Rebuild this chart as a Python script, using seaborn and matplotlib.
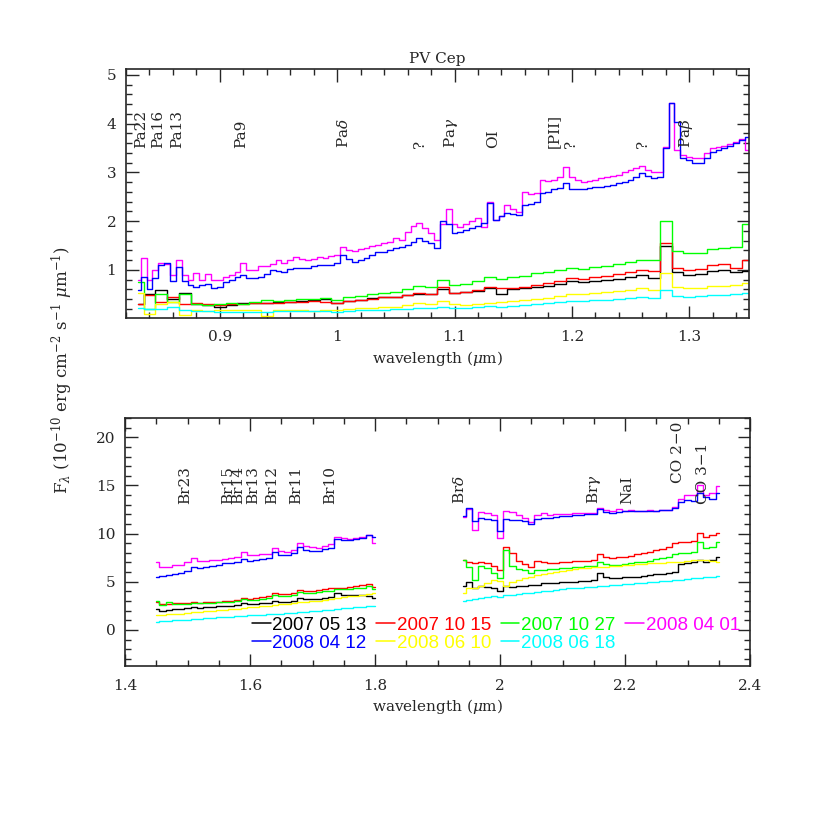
import numpy as np
import pandas as pd
import matplotlib
matplotlib.use("Agg")
import matplotlib.pyplot as plt
import seaborn as sns
from matplotlib.lines import Line2D
from matplotlib.ticker import MultipleLocator, FormatStrFormatter

# -----------------------------
# Data
# -----------------------------
dates = ["2007 05 13", "2007 10 15", "2007 10 27", "2008 04 01",
         "2008 04 12", "2008 06 10", "2008 06 18"]
colors = ["#000000", "#ff0000", "#00ff00", "#ff00ff",
          "#0000ff", "#ffff00", "#00ffff"]

# top panel: 0.83 - 1.35 um
wl_top = [0.83, 0.84, 0.85, 0.86, 0.87, 0.88, 0.89, 0.90, 0.91, 0.92,
          0.93, 0.94, 0.95, 0.96, 0.97, 0.98, 0.99, 1.00, 1.01, 1.02,
          1.03, 1.04, 1.05, 1.06, 1.07, 1.08, 1.09, 1.10, 1.11, 1.12,
          1.13, 1.14, 1.15, 1.16, 1.17, 1.18, 1.19, 1.20, 1.21, 1.22,
          1.23, 1.24, 1.25, 1.26, 1.27, 1.28, 1.29, 1.30, 1.31, 1.32,
          1.33, 1.34, 1.35]
# the two bright spectra are read on a finer grid
wl_top_fine = [0.830, 0.835, 0.840, 0.845, 0.850, 0.855, 0.860, 0.865, 0.870, 0.875,
               0.880, 0.885, 0.890, 0.895, 0.900, 0.905, 0.910, 0.915, 0.920, 0.925,
               0.930, 0.935, 0.940, 0.945, 0.950, 0.955, 0.960, 0.965, 0.970, 0.975,
               0.980, 0.985, 0.990, 0.995, 1.000, 1.005, 1.010, 1.015, 1.020, 1.025,
               1.030, 1.035, 1.040, 1.045, 1.050, 1.055, 1.060, 1.065, 1.070, 1.075,
               1.080, 1.085, 1.090, 1.095, 1.100, 1.105, 1.110, 1.115, 1.120, 1.125,
               1.130, 1.135, 1.140, 1.145, 1.150, 1.155, 1.160, 1.165, 1.170, 1.175,
               1.180, 1.185, 1.190, 1.195, 1.200, 1.205, 1.210, 1.215, 1.220, 1.225,
               1.230, 1.235, 1.240, 1.245, 1.250, 1.255, 1.260, 1.265, 1.270, 1.275,
               1.280, 1.285, 1.290, 1.295, 1.300, 1.305, 1.310, 1.315, 1.320, 1.325,
               1.330, 1.335, 1.340, 1.345, 1.350]

top_070513 = [0.3, 0.5, 0.58, 0.4, 0.52, 0.3, 0.28, 0.25, 0.28, 0.33,
              0.32, 0.33, 0.35, 0.35, 0.36, 0.38, 0.4, 0.32, 0.36, 0.38,
              0.42, 0.44, 0.45, 0.48, 0.5, 0.5, 0.6, 0.52, 0.54, 0.56,
              0.64, 0.5, 0.6, 0.62, 0.65, 0.68, 0.72, 0.77, 0.75, 0.77,
              0.8, 0.82, 0.86, 0.9, 0.84, 1.5, 0.95, 0.9, 0.92, 0.98,
              1.0, 0.95, 0.98]
top_071015 = [0.3, 0.48, 0.35, 0.45, 0.3, 0.32, 0.3, 0.28, 0.3, 0.3,
              0.32, 0.32, 0.33, 0.35, 0.35, 0.36, 0.35, 0.32, 0.36, 0.38,
              0.4, 0.44, 0.45, 0.48, 0.52, 0.5, 0.66, 0.52, 0.55, 0.58,
              0.66, 0.62, 0.64, 0.66, 0.7, 0.74, 0.78, 0.84, 0.82, 0.86,
              0.88, 0.92, 0.95, 1.0, 0.97, 1.55, 1.05, 1.0, 1.02, 1.1,
              1.12, 1.05, 1.2]
top_071027 = [0.75, 0.2, 0.5, 0.35, 0.5, 0.3, 0.28, 0.3, 0.32, 0.3,
              0.35, 0.38, 0.36, 0.38, 0.4, 0.4, 0.42, 0.38, 0.44, 0.46,
              0.5, 0.52, 0.55, 0.6, 0.68, 0.66, 0.8, 0.7, 0.72, 0.78,
              0.86, 0.82, 0.86, 0.88, 0.93, 0.96, 1.0, 1.04, 1.02, 1.06,
              1.08, 1.12, 1.16, 1.2, 1.2, 2.0, 1.38, 1.35, 1.34, 1.42,
              1.46, 1.48, 1.95]
top_080401 = [0.8, 1.25, 0.8, 1.0, 1.15, 1.12, 0.9, 1.2, 0.9, 0.8,
              0.94, 0.8, 0.92, 0.8, 0.8, 0.86, 0.9, 0.96, 1.14, 1.0,
              1.0, 1.08, 1.08, 1.12, 1.2, 1.15, 1.2, 1.27, 1.22, 1.2,
              1.22, 1.26, 1.25, 1.28, 1.3, 1.47, 1.4, 1.38, 1.42, 1.45,
              1.5, 1.52, 1.55, 1.58, 1.65, 1.62, 1.78, 1.9, 1.96, 1.85,
              1.75, 1.61, 1.95, 2.25, 1.95, 1.88, 1.95, 2.0, 2.07, 1.88,
              2.4, 2.02, 2.1, 2.33, 2.25, 2.19, 2.6, 2.55, 2.58, 2.84,
              2.82, 2.84, 2.9, 3.11, 2.9, 2.85, 2.8, 2.82, 2.85, 2.88,
              2.9, 2.92, 2.95, 3.0, 3.05, 3.1, 3.13, 3.05, 3.0, 3.0,
              3.52, 4.42, 3.46, 3.35, 3.32, 3.3, 3.3, 3.4, 3.5, 3.52,
              3.55, 3.58, 3.62, 3.68, 3.45]
top_080412 = [0.59, 0.86, 0.6, 0.84, 1.1, 1.14, 0.78, 1.06, 0.78, 0.69,
              0.66, 0.7, 0.72, 0.63, 0.65, 0.75, 0.8, 0.86, 0.9, 0.83,
              0.84, 0.86, 0.92, 1.0, 0.98, 0.96, 1.02, 1.04, 1.04, 1.05,
              1.08, 1.1, 1.1, 1.1, 1.15, 1.31, 1.22, 1.16, 1.2, 1.25,
              1.3, 1.37, 1.37, 1.4, 1.45, 1.48, 1.51, 1.58, 1.65, 1.6,
              1.55, 1.45, 2.0, 1.95, 1.76, 1.78, 1.82, 1.86, 1.9, 1.96,
              2.37, 2.02, 2.1, 2.16, 2.14, 2.12, 2.33, 2.35, 2.39, 2.58,
              2.6, 2.65, 2.68, 2.78, 2.65, 2.65, 2.66, 2.68, 2.7, 2.7,
              2.72, 2.75, 2.78, 2.8, 2.85, 2.9, 2.98, 2.92, 2.88, 2.9,
              3.5, 4.42, 4.03, 3.3, 3.25, 3.2, 3.2, 3.3, 3.42, 3.45,
              3.5, 3.55, 3.6, 3.66, 3.73]
top_080610 = [0.52, 0.1, 0.3, 0.35, 0.08, 0.18, 0.16, 0.17, 0.18, 0.17,
              0.18, 0.06, 0.18, 0.17, 0.18, 0.16, 0.18, 0.18, 0.2, 0.21,
              0.22, 0.24, 0.25, 0.28, 0.32, 0.3, 0.37, 0.3, 0.28, 0.3,
              0.33, 0.34, 0.36, 0.38, 0.4, 0.43, 0.46, 0.5, 0.5, 0.52,
              0.54, 0.56, 0.58, 0.63, 0.59, 0.94, 0.65, 0.63, 0.64, 0.67,
              0.68, 0.7, 0.73]
top_080618 = [0.22, 0.2, 0.2, 0.24, 0.18, 0.15, 0.15, 0.14, 0.13, 0.13,
              0.14, 0.14, 0.15, 0.15, 0.15, 0.16, 0.16, 0.14, 0.16, 0.17,
              0.18, 0.18, 0.19, 0.2, 0.21, 0.22, 0.25, 0.22, 0.23, 0.24,
              0.26, 0.25, 0.27, 0.28, 0.3, 0.32, 0.34, 0.36, 0.36, 0.38,
              0.39, 0.41, 0.42, 0.45, 0.42, 0.59, 0.46, 0.45, 0.46, 0.48,
              0.49, 0.5, 0.52]

# bottom panel, H band piece: 1.45 - 1.80 um
wl_h = [1.45, 1.46, 1.47, 1.48, 1.49, 1.50, 1.51, 1.52, 1.53, 1.54,
        1.55, 1.56, 1.57, 1.58, 1.59, 1.60, 1.61, 1.62, 1.63, 1.64,
        1.65, 1.66, 1.67, 1.68, 1.69, 1.70, 1.71, 1.72, 1.73, 1.74,
        1.75, 1.76, 1.77, 1.78, 1.79, 1.80]
h_070513 = [2.2, 2.0, 2.1, 2.2, 2.2, 2.3, 2.4, 2.3, 2.4, 2.4,
            2.5, 2.5, 2.5, 2.6, 2.8, 2.7, 2.7, 2.8, 2.8, 3.0,
            2.9, 2.9, 3.0, 3.3, 3.2, 3.2, 3.2, 3.3, 3.4, 3.8,
            3.6, 3.6, 3.6, 3.6, 3.5, 3.3]
h_071015 = [2.9, 2.7, 2.7, 2.8, 2.8, 2.8, 2.9, 2.8, 2.9, 2.9,
            2.9, 3.0, 3.0, 3.1, 3.3, 3.2, 3.3, 3.4, 3.5, 3.8,
            3.7, 3.7, 3.8, 4.1, 4.0, 4.0, 4.1, 4.2, 4.3, 4.4,
            4.4, 4.5, 4.6, 4.7, 4.8, 4.5]
h_071027 = [3.0, 2.6, 2.9, 2.7, 2.7, 2.7, 2.8, 2.8, 2.8, 2.8,
            2.9, 2.9, 2.9, 3.0, 3.2, 3.1, 3.1, 3.2, 3.3, 3.6,
            3.5, 3.5, 3.6, 3.9, 3.8, 3.8, 3.9, 4.0, 4.0, 4.2,
            4.2, 4.2, 4.3, 4.4, 4.6, 4.2]
h_080401 = [7.0, 6.5, 6.5, 6.7, 6.7, 7.0, 7.5, 7.2, 7.2, 7.3,
            7.3, 7.4, 7.5, 7.6, 8.1, 7.8, 7.8, 7.9, 7.9, 8.5,
            8.2, 8.1, 8.3, 9.0, 8.7, 8.6, 8.5, 8.7, 8.9, 9.6,
            9.5, 9.4, 9.5, 9.6, 9.8, 9.0]
h_080412 = [5.5, 5.6, 5.7, 5.8, 5.9, 6.1, 6.5, 6.4, 6.5, 6.6,
            6.7, 6.9, 6.9, 7.0, 7.4, 7.2, 7.3, 7.4, 7.5, 8.1,
            7.8, 7.8, 8.0, 8.6, 8.3, 8.2, 8.2, 8.4, 8.5, 9.4,
            9.3, 9.3, 9.4, 9.5, 9.9, 9.6]
h_080610 = [1.5, 1.55, 1.6, 1.65, 1.7, 1.8, 1.85, 1.9, 1.95, 2.0,
            2.05, 2.1, 2.15, 2.2, 2.3, 2.35, 2.4, 2.45, 2.5, 2.6,
            2.65, 2.7, 2.75, 2.85, 2.9, 3.0, 3.05, 3.1, 3.2, 3.3,
            3.4, 3.5, 3.55, 3.6, 3.7, 3.8]
h_080618 = [0.85, 0.9, 0.95, 1.0, 1.0, 1.05, 1.1, 1.15, 1.2, 1.25,
            1.3, 1.3, 1.35, 1.4, 1.45, 1.5, 1.55, 1.55, 1.6, 1.65,
            1.7, 1.75, 1.8, 1.85, 1.9, 1.95, 2.0, 2.05, 2.1, 2.2,
            2.25, 2.3, 2.35, 2.4, 2.5, 2.5]

# bottom panel, K band piece: 1.94 - 2.35 um
wl_k = [1.94, 1.95, 1.96, 1.97, 1.98, 1.99, 2.00, 2.01, 2.02, 2.03,
        2.04, 2.05, 2.06, 2.07, 2.08, 2.09, 2.10, 2.11, 2.12, 2.13,
        2.14, 2.15, 2.16, 2.17, 2.18, 2.19, 2.20, 2.21, 2.22, 2.23,
        2.24, 2.25, 2.26, 2.27, 2.28, 2.29, 2.30, 2.31, 2.32, 2.33,
        2.34, 2.35]
k_070513 = [4.6, 5.0, 4.3, 4.6, 4.5, 4.4, 4.0, 4.6, 4.5, 4.6,
            4.6, 4.7, 4.7, 4.9, 4.9, 4.9, 5.0, 5.0, 5.0, 5.1,
            5.1, 5.2, 5.9, 5.5, 5.4, 5.4, 5.5, 5.5, 5.5, 5.6,
            5.7, 5.8, 5.8, 5.9, 6.0, 6.8, 6.9, 7.1, 7.3, 7.1,
            7.3, 7.6]
k_071015 = [7.3, 7.1, 6.9, 7.0, 6.9, 6.6, 6.2, 8.6, 8.0, 7.2,
            6.8, 6.5, 7.2, 7.0, 6.9, 6.9, 7.0, 7.1, 7.2, 7.2,
            7.2, 7.3, 7.9, 7.6, 7.5, 7.6, 7.6, 7.7, 7.9, 8.0,
            8.1, 8.3, 8.4, 8.6, 9.0, 9.1, 9.1, 9.2, 10.1, 9.6,
            9.8, 10.1]
k_071027 = [7.3, 6.5, 5.2, 6.6, 6.4, 5.9, 5.4, 8.3, 6.6, 6.3,
            6.2, 5.9, 6.2, 6.2, 6.3, 6.3, 6.4, 6.4, 6.5, 6.5,
            6.6, 6.6, 7.0, 6.8, 6.7, 6.7, 6.8, 6.9, 7.0, 7.1,
            7.2, 7.4, 7.5, 7.6, 7.9, 8.0, 8.0, 8.1, 9.1, 8.5,
            8.6, 9.1]
k_080401 = [11.7, 12.5, 10.4, 12.2, 12.1, 11.9, 9.5, 12.3, 12.2, 11.9,
            11.6, 11.2, 11.9, 12.1, 11.9, 12.0, 12.0, 12.0, 12.1, 12.1,
            12.1, 12.1, 12.7, 12.4, 12.3, 12.5, 12.3, 12.4, 12.3, 12.3,
            12.4, 12.3, 12.4, 12.4, 12.8, 13.6, 14.0, 14.0, 15.0, 14.0,
            14.2, 14.9]
k_080412 = [11.8, 12.7, 11.3, 11.6, 11.5, 11.4, 10.3, 11.5, 11.4, 11.4,
            11.3, 11.0, 11.5, 11.6, 11.6, 11.7, 11.8, 11.8, 11.9, 11.9,
            12.0, 12.0, 12.6, 12.2, 12.1, 12.2, 12.3, 12.3, 12.3, 12.3,
            12.3, 12.3, 12.4, 12.4, 12.7, 13.3, 13.5, 13.4, 14.2, 13.8,
            13.6, 14.2]
k_080610 = [3.8, 4.4, 4.4, 4.6, 4.9, 5.2, 5.1, 4.6, 5.0, 5.2,
            5.4, 5.5, 5.7, 5.8, 5.9, 6.0, 6.1, 6.2, 6.3, 6.4,
            6.4, 6.5, 6.5, 6.5, 6.6, 6.6, 6.7, 6.7, 6.8, 6.8,
            6.9, 6.9, 6.9, 7.0, 7.0, 7.1, 7.2, 7.3, 7.3, 7.3,
            7.2, 7.1]
k_080618 = [3.0, 3.1, 3.2, 3.3, 3.4, 3.5, 3.4, 3.6, 3.6, 3.7,
            3.8, 3.8, 3.9, 4.0, 4.0, 4.1, 4.2, 4.3, 4.3, 4.4,
            4.5, 4.5, 4.6, 4.6, 4.7, 4.7, 4.8, 4.8, 4.9, 4.9,
            5.0, 5.0, 5.1, 5.1, 5.2, 5.2, 5.3, 5.4, 5.4, 5.5,
            5.5, 5.6]

# line identifications
top_lines = ["Pa22", "Pa16", "Pa13", "Pa9", r"Pa$\delta$", "?", r"Pa$\gamma$",
             "OI", "[PII]", "?", "?", r"Pa$\beta$"]
top_lines_wl = [0.833, 0.847, 0.864, 0.918, 1.005, 1.071, 1.097,
                1.133, 1.185, 1.199, 1.261, 1.297]
bot_lines = ["Br23", "Br15", "Br14", "Br13", "Br12", "Br11", "Br10",
             r"Br$\delta$", r"Br$\gamma$", "NaI", "CO 2\u22120", "CO 3\u22121"]
bot_lines_wl = [1.496, 1.565, 1.581, 1.605, 1.635, 1.674, 1.728,
                1.936, 2.150, 2.203, 2.285, 2.325]

# -----------------------------
# Long-form frames
# -----------------------------
top_series = [(wl_top, top_070513), (wl_top, top_071015), (wl_top, top_071027),
              (wl_top_fine, top_080401), (wl_top_fine, top_080412),
              (wl_top, top_080610), (wl_top, top_080618)]
h_series = [h_070513, h_071015, h_071027, h_080401, h_080412, h_080610, h_080618]
k_series = [k_070513, k_071015, k_071027, k_080401, k_080412, k_080610, k_080618]


def long_frame(pairs, seg):
    parts = []
    for d, (wl, vals) in zip(dates, pairs):
        parts.append(pd.DataFrame({"wl": wl, "flux": vals, "date": d, "seg": seg}))
    return pd.concat(parts, ignore_index=True)


top_df = long_frame(top_series, "J")
bot_df = pd.concat([long_frame([(wl_h, v) for v in h_series], "H"),
                    long_frame([(wl_k, v) for v in k_series], "K")],
                   ignore_index=True)

palette = dict(zip(dates, colors))

# -----------------------------
# Style
# -----------------------------
sns.set_style("ticks")
plt.rcParams["font.family"] = ["DejaVu Serif"]
plt.rcParams["mathtext.fontset"] = "dejavuserif"
plt.rcParams.update({
    "xtick.direction": "in", "ytick.direction": "in",
    "xtick.top": True, "ytick.right": True,
    "xtick.major.size": 9, "ytick.major.size": 9,
    "xtick.minor.size": 4.5, "ytick.minor.size": 4.5,
    "xtick.major.width": 1.0, "ytick.major.width": 1.0,
    "xtick.minor.width": 1.0, "ytick.minor.width": 1.0,
    "axes.linewidth": 1.2,
    "xtick.labelsize": 11, "ytick.labelsize": 11,
    "xtick.major.pad": 9, "ytick.major.pad": 7,
})

fig = plt.figure(figsize=(8.17, 8.17), dpi=100)
ax1 = fig.add_axes([126 / 817, 1 - 318 / 817, 623 / 817, 249 / 817])
ax2 = fig.add_axes([125 / 817, 1 - 666 / 817, 625 / 817, 248 / 817])

sns.lineplot(data=top_df, x="wl", y="flux", hue="date", hue_order=dates,
             palette=palette, estimator=None, sort=False, drawstyle="steps-mid",
             linewidth=1.0, legend=False, ax=ax1)
sns.lineplot(data=bot_df, x="wl", y="flux", hue="date", hue_order=dates,
             units="seg", palette=palette, estimator=None, sort=False,
             drawstyle="steps-mid", linewidth=1.0, legend=False, ax=ax2)

# top axes
ax1.set_xlim(0.82, 1.351)
ax1.set_ylim(0.015, 5.12)
ax1.xaxis.set_major_locator(MultipleLocator(0.1))
ax1.xaxis.set_minor_locator(MultipleLocator(0.02))
ax1.yaxis.set_major_locator(MultipleLocator(1))
ax1.yaxis.set_minor_locator(MultipleLocator(0.2))
ax1.xaxis.set_major_formatter(FormatStrFormatter("%g"))
ax1.set_xlabel(r"wavelength ($\mu$m)", fontsize=11, labelpad=3)
ax1.set_ylabel("")
ax1.set_title("PV Cep", fontsize=11, pad=4)

# bottom axes
ax2.set_xlim(1.4, 2.4)
ax2.set_ylim(-3.75, 22)
ax2.xaxis.set_major_locator(MultipleLocator(0.2))
ax2.xaxis.set_minor_locator(MultipleLocator(0.05))
ax2.yaxis.set_major_locator(MultipleLocator(5))
ax2.yaxis.set_minor_locator(MultipleLocator(1))
ax2.xaxis.set_major_formatter(FormatStrFormatter("%g"))
ax2.set_xlabel(r"wavelength ($\mu$m)", fontsize=11, labelpad=3)
ax2.set_ylabel("")

for ax in (ax1, ax2):
    ax.tick_params(which="both", top=True, right=True)

# line labels
for name, w in zip(top_lines, top_lines_wl):
    ax1.text(w, 3.5, name, rotation=90, ha="center", va="bottom", fontsize=11)
for name, w in zip(bot_lines, bot_lines_wl):
    yb = 15.2 if name.startswith("CO 2") else 13.1
    ax2.text(w, yb, name, rotation=90, ha="center", va="bottom", fontsize=11)

# legend, row-major order in 4 columns
order = [0, 4, 1, 5, 2, 6, 3]
handles = [Line2D([], [], color=colors[i], lw=1.1) for i in order]
labels = [dates[i] for i in order]
leg = ax2.legend(handles, labels, ncol=4, loc="upper left",
                 bbox_to_anchor=(0.203, 0.199), frameon=False,
                 borderpad=0, borderaxespad=0, handlelength=1.0,
                 handletextpad=0.1, columnspacing=0.5, labelspacing=0.05,
                 prop={"family": "Liberation Sans", "size": 13.5})
for txt, i in zip(leg.get_texts(), order):
    txt.set_color(colors[i])

fig.text(0.076, 0.547,
         r"F$_\lambda$ (10$^{-10}$ erg cm$^{-2}$ s$^{-1}$ $\mu$m$^{-1}$)",
         rotation=90, ha="center", va="center", fontsize=12)

fig.savefig("out.png", dpi=100)
